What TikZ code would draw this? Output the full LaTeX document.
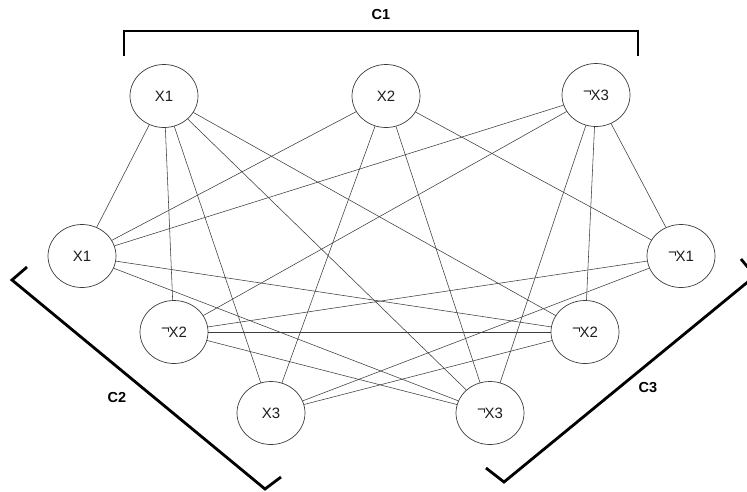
\documentclass[tikz,border=0pt]{standalone}
\usepackage{fontspec}
\setmainfont{Liberation Sans}
\usetikzlibrary{shapes.geometric}
\definecolor{satInk}{HTML}{1E1E1E}
\definecolor{satLine}{HTML}{3C3C3C}
\newcommand{\lneg}{\raisebox{0.42ex}{¬}\kern-0.08em}

\begin{document}
\begin{tikzpicture}[x=1pt,y=-1pt,line cap=round,line join=round]
\path[fill=white] (0,0) rectangle (747,491);
\clip (0,0) rectangle (747,491);
\tikzset{lit/.style={draw=satLine,ellipse,line width=0.7pt,minimum width=68pt,minimum height=63pt,inner sep=0pt,text=satInk,font=\fontsize{15}{17}\selectfont},edge/.style={draw=satLine,line width=0.55pt},brace/.style={draw=black,line width=2.8pt,line cap=butt,line join=miter},clabel/.style={text=black,font=\bfseries\fontsize{14.5}{16}\selectfont}}
% clause C1
\node[lit] (c1a) at (164,96) {X1}; \node[lit] (c1b) at (386,96) {X2}; \node[lit] (c1c) at (596,95) {\lneg X3};
% clause C2
\node[lit] (c2a) at (82,256) {X1}; \node[lit] (c2b) at (174,332) {\lneg X2}; \node[lit] (c2c) at (271,413) {X3};
% clause C3
\node[lit] (c3a) at (681,256) {\lneg X1}; \node[lit] (c3b) at (585,332) {\lneg X2}; \node[lit] (c3c) at (490,413) {\lneg X3};
% C1 -- C2
\draw[edge] (c1a) -- (c2a); \draw[edge] (c1a) -- (c2b); \draw[edge] (c1a) -- (c2c);
\draw[edge] (c1b) -- (c2a); \draw[edge] (c1b) -- (c2c);
\draw[edge] (c1c) -- (c2a); \draw[edge] (c1c) -- (c2b);
% C1 -- C3
\draw[edge] (c1a) -- (c3b); \draw[edge] (c1a) -- (c3c);
\draw[edge] (c1b) -- (c3a); \draw[edge] (c1b) -- (c3c);
\draw[edge] (c1c) -- (c3a); \draw[edge] (c1c) -- (c3b); \draw[edge] (c1c) -- (c3c);
% C2 -- C3
\draw[edge] (c2a) -- (c3b); \draw[edge] (c2a) -- (c3c);
\draw[edge] (c2b) -- (c3a); \draw[edge] (c2b) -- (c3b); \draw[edge] (c2b) -- (c3c);
\draw[edge] (c2c) -- (c3a); \draw[edge] (c2c) -- (c3b);
% brackets
\draw[brace] (124,56) -- (124,31) -- (638,31) -- (638,56); \node[clabel] (lc1) at (381,15) {C1};
\draw[brace] (27,267) -- (12,280) -- (265,489) -- (281,477); \node[clabel] (lc2) at (117,397) {C2};
\draw[brace] (486,468) -- (504,482) -- (755,276) -- (741,259); \node[clabel] (lc3) at (648,388) {C3};
\end{tikzpicture}
\end{document}
